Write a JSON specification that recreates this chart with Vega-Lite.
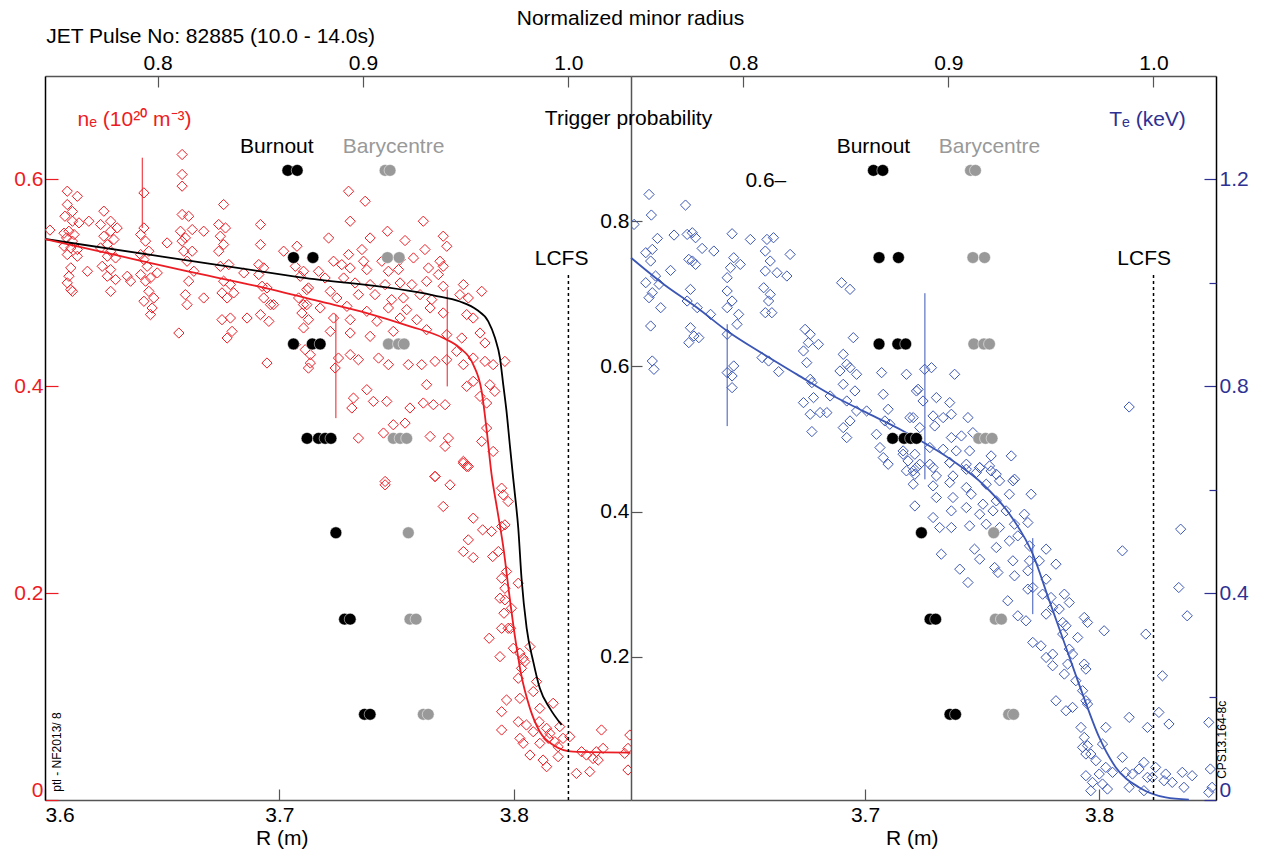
{
"$schema": "https://vega.github.io/schema/vega-lite/v6.json",
"padding": {"left": 13, "top": 7, "right": 5, "bottom": 5},
"config": {
  "view": {"stroke": null},
  "font": "Liberation Sans",
  "axis": {"grid": false, "labelFont": "Liberation Sans", "titleFont": "Liberation Sans", "labelFontSize": 21, "titleFontSize": 21, "titleFontWeight": "normal", "labelColor": "black", "titleColor": "black", "domainWidth": 1.5, "tickWidth": 1.2, "labelOverlap": false, "labelAngle": 0},
  "text": {"font": "Liberation Sans"}
},
"datasets": {
  "ne": [
    {"R":3.6021,"ne":0.551},
    {"R":3.6095,"ne":0.5886},{"R":3.6138,"ne":0.5837},{"R":3.6095,"ne":0.5757},{"R":3.6117,"ne":0.569},{"R":3.6085,"ne":0.5644},{"R":3.6117,"ne":0.5596},{"R":3.6145,"ne":0.558},{"R":3.6081,"ne":0.548},{"R":3.6102,"ne":0.5499},{"R":3.6124,"ne":0.5467},{"R":3.6092,"ne":0.5435},{"R":3.6117,"ne":0.5403},{"R":3.6081,"ne":0.5354},{"R":3.611,"ne":0.5338},{"R":3.6138,"ne":0.5322},{"R":3.6095,"ne":0.5273},{"R":3.6138,"ne":0.5257},{"R":3.611,"ne":0.5145},{"R":3.6102,"ne":0.5064},{"R":3.6095,"ne":0.5},{"R":3.611,"ne":0.4935},{"R":3.6117,"ne":0.4918},{"R":3.6181,"ne":0.5112},{"R":3.6187,"ne":0.5596},
    {"R":3.6251,"ne":0.5693},{"R":3.628,"ne":0.5596},{"R":3.6237,"ne":0.5564},{"R":3.6308,"ne":0.5531},{"R":3.628,"ne":0.5499},{"R":3.6251,"ne":0.5451},{"R":3.6294,"ne":0.5419},{"R":3.6266,"ne":0.537},{"R":3.6237,"ne":0.5338},{"R":3.628,"ne":0.5306},{"R":3.6266,"ne":0.5257},{"R":3.6301,"ne":0.5241},{"R":3.6244,"ne":0.516},{"R":3.628,"ne":0.5128},{"R":3.6266,"ne":0.5064},{"R":3.6301,"ne":0.5032},{"R":3.628,"ne":0.4918},{"R":3.6351,"ne":0.5064},{"R":3.6365,"ne":0.5016},
    {"R":3.6422,"ne":0.587},{"R":3.6422,"ne":0.5531},{"R":3.6408,"ne":0.5467},{"R":3.6429,"ne":0.5403},{"R":3.6443,"ne":0.5306},{"R":3.6408,"ne":0.5273},{"R":3.6422,"ne":0.5225},{"R":3.6436,"ne":0.516},{"R":3.6408,"ne":0.508},{"R":3.645,"ne":0.5048},{"R":3.6429,"ne":0.5016},{"R":3.6443,"ne":0.4918},{"R":3.6422,"ne":0.4822},{"R":3.6464,"ne":0.4854},{"R":3.6457,"ne":0.4757},{"R":3.645,"ne":0.4693},{"R":3.6479,"ne":0.5096},
    {"R":3.6585,"ne":0.6241},{"R":3.6585,"ne":0.6048},{"R":3.6585,"ne":0.5935},{"R":3.6585,"ne":0.5661},{"R":3.6613,"ne":0.5644},{"R":3.6578,"ne":0.5499},{"R":3.6599,"ne":0.5435},{"R":3.6628,"ne":0.5515},{"R":3.6585,"ne":0.5403},{"R":3.6592,"ne":0.5306},{"R":3.6628,"ne":0.5306},{"R":3.6606,"ne":0.5209},{"R":3.6635,"ne":0.5112},{"R":3.6613,"ne":0.5016},{"R":3.6599,"ne":0.4886},{"R":3.6606,"ne":0.4789},{"R":3.6571,"ne":0.4515},{"R":3.6521,"ne":0.5386},{"R":3.6677,"ne":0.5499},{"R":3.6677,"ne":0.4854},
    {"R":3.6762,"ne":0.5757},{"R":3.6741,"ne":0.5564},{"R":3.677,"ne":0.5531},{"R":3.6748,"ne":0.5451},{"R":3.6762,"ne":0.537},{"R":3.6741,"ne":0.5306},{"R":3.6784,"ne":0.5177},{"R":3.6748,"ne":0.516},{"R":3.6762,"ne":0.5016},{"R":3.6791,"ne":0.4983},{"R":3.6755,"ne":0.4903},{"R":3.6777,"ne":0.4854},{"R":3.6805,"ne":0.4903},{"R":3.6791,"ne":0.466},{"R":3.6755,"ne":0.4644},{"R":3.6798,"ne":0.4531},{"R":3.6777,"ne":0.4467},{"R":3.6862,"ne":0.466},{"R":3.6848,"ne":0.5096},
    {"R":3.6919,"ne":0.5564},{"R":3.6919,"ne":0.537},{"R":3.6912,"ne":0.5177},{"R":3.6933,"ne":0.5145},{"R":3.6912,"ne":0.508},{"R":3.6926,"ne":0.4967},{"R":3.6947,"ne":0.4951},{"R":3.6933,"ne":0.4854},{"R":3.6962,"ne":0.4789},{"R":3.6919,"ne":0.4693},{"R":3.6955,"ne":0.4628},{"R":3.6947,"ne":0.4225},{"R":3.6975,"ne":0.4789},
    {"R":3.7018,"ne":0.5306},{"R":3.7075,"ne":0.5354},{"R":3.7068,"ne":0.516},{"R":3.7089,"ne":0.5064},{"R":3.7117,"ne":0.4935},{"R":3.7082,"ne":0.4854},{"R":3.7103,"ne":0.4789},{"R":3.7096,"ne":0.4708},{"R":3.7124,"ne":0.4644},{"R":3.7103,"ne":0.4564},{"R":3.7068,"ne":0.4402},{"R":3.711,"ne":0.4354},{"R":3.7132,"ne":0.4305},{"R":3.7124,"ne":0.4176},
    {"R":3.7295,"ne":0.5886},{"R":3.7366,"ne":0.5789},{"R":3.7302,"ne":0.5596},{"R":3.7614,"ne":0.5596},{"R":3.7461,"ne":0.5499},{"R":3.7699,"ne":0.5451},{"R":3.7536,"ne":0.5409},{"R":3.721,"ne":0.5434},{"R":3.7387,"ne":0.5434},{"R":3.7352,"ne":0.5322},{"R":3.7621,"ne":0.5322},{"R":3.7714,"ne":0.5354},{"R":3.7139,"ne":0.5241},{"R":3.7231,"ne":0.5209},{"R":3.7295,"ne":0.5273},{"R":3.7266,"ne":0.5176},{"R":3.7359,"ne":0.5209},{"R":3.7437,"ne":0.5209},{"R":3.7515,"ne":0.5225},{"R":3.7572,"ne":0.5241},{"R":3.7685,"ne":0.5209},{"R":3.7699,"ne":0.516},{"R":3.7103,"ne":0.5112},{"R":3.7167,"ne":0.5112},{"R":3.7302,"ne":0.5144},{"R":3.7373,"ne":0.5128},{"R":3.7465,"ne":0.5112},{"R":3.7508,"ne":0.5128},{"R":3.7636,"ne":0.5144},{"R":3.7678,"ne":0.508},{"R":3.7195,"ne":0.5047},{"R":3.7274,"ne":0.5047},{"R":3.7323,"ne":0.4999},{"R":3.7387,"ne":0.4983},{"R":3.7451,"ne":0.4983},{"R":3.7515,"ne":0.4999},{"R":3.7565,"ne":0.4983},{"R":3.7628,"ne":0.5015},{"R":3.7699,"ne":0.4967},{"R":3.7785,"ne":0.4983},{"R":3.7863,"ne":0.4918},{"R":3.7124,"ne":0.4951},{"R":3.7217,"ne":0.4918},{"R":3.7245,"ne":0.4854},{"R":3.7337,"ne":0.4886},{"R":3.7408,"ne":0.4886},{"R":3.7479,"ne":0.4838},{"R":3.7529,"ne":0.4854},{"R":3.76,"ne":0.4886},{"R":3.765,"ne":0.4838},{"R":3.777,"ne":0.4886},{"R":3.7806,"ne":0.4854},{"R":3.7117,"ne":0.4789},{"R":3.7174,"ne":0.4757},{"R":3.7288,"ne":0.4773},{"R":3.7373,"ne":0.4725},{"R":3.7465,"ne":0.4757},{"R":3.7543,"ne":0.4741},{"R":3.7643,"ne":0.4757},{"R":3.7699,"ne":0.4709},{"R":3.7799,"ne":0.4693},{"R":3.7827,"ne":0.466},{"R":3.7231,"ne":0.466},{"R":3.7302,"ne":0.4644},{"R":3.7416,"ne":0.4628},{"R":3.7515,"ne":0.466},{"R":3.7586,"ne":0.4644},{"R":3.7217,"ne":0.4531},{"R":3.7302,"ne":0.4515},{"R":3.7387,"ne":0.4483},{"R":3.7486,"ne":0.4531},{"R":3.7628,"ne":0.4547},{"R":3.7714,"ne":0.4499},{"R":3.7778,"ne":0.4467},{"R":3.7856,"ne":0.4515},{"R":3.7877,"ne":0.4419},{"R":3.7252,"ne":0.4273},{"R":3.7337,"ne":0.4257},{"R":3.7423,"ne":0.4273},{"R":3.7465,"ne":0.4209},{"R":3.755,"ne":0.4209},{"R":3.7607,"ne":0.4209},{"R":3.7664,"ne":0.4241},{"R":3.7714,"ne":0.4257},{"R":3.7756,"ne":0.4338},{"R":3.7785,"ne":0.4209},{"R":3.7827,"ne":0.4273},{"R":3.7877,"ne":0.4241},{"R":3.7912,"ne":0.4209},{"R":3.7962,"ne":0.4241},{"R":3.7132,"ne":0.4225},{"R":3.7238,"ne":0.4177},{"R":3.7302,"ne":0.4306},{"R":3.7373,"ne":0.3967},{"R":3.7401,"ne":0.3854},{"R":3.7458,"ne":0.3854},{"R":3.7316,"ne":0.3886},{"R":3.7309,"ne":0.379},{"R":3.7557,"ne":0.379},{"R":3.7628,"ne":0.4015},{"R":3.7614,"ne":0.3838},{"R":3.7657,"ne":0.3822},{"R":3.7707,"ne":0.3822},{"R":3.7799,"ne":0.3999},{"R":3.7827,"ne":0.4048},{"R":3.7856,"ne":0.3902},{"R":3.7884,"ne":0.3838},{"R":3.7898,"ne":0.4015},{"R":3.7919,"ne":0.3951},{"R":3.7486,"ne":0.3628},{"R":3.7536,"ne":0.3644},{"R":3.7444,"ne":0.3548},{"R":3.7337,"ne":0.3499},{"R":3.7643,"ne":0.3515},{"R":3.7721,"ne":0.3499},{"R":3.7707,"ne":0.3419},{"R":3.7785,"ne":0.3274},{"R":3.7799,"ne":0.3225},{"R":3.7884,"ne":0.3596},{"R":3.7863,"ne":0.3467},{"R":3.7912,"ne":0.337},{"R":3.7664,"ne":0.3128},{"R":3.7451,"ne":0.308},
    {"R":3.7451,"ne":0.3047},{"R":3.7664,"ne":0.3128},{"R":3.7728,"ne":0.3047},{"R":3.7785,"ne":0.3257},{"R":3.7806,"ne":0.3225},{"R":3.7699,"ne":0.2838},{"R":3.7827,"ne":0.2725},{"R":3.7867,"ne":0.2612},{"R":3.7905,"ne":0.2596},{"R":3.7948,"ne":0.2644},{"R":3.7962,"ne":0.266},{"R":3.7948,"ne":0.3015},{"R":3.7955,"ne":0.295},{"R":3.7976,"ne":0.2886},{"R":3.7806,"ne":0.2515},{"R":3.7785,"ne":0.2402},{"R":3.7827,"ne":0.2344},{"R":3.791,"ne":0.2354},{"R":3.7934,"ne":0.2402},{"R":3.7969,"ne":0.2209},{"R":3.7948,"ne":0.2144},{"R":3.8019,"ne":0.2096},{"R":3.7962,"ne":0.2047},{"R":3.7941,"ne":0.1951},{"R":3.7962,"ne":0.1935},{"R":3.799,"ne":0.1854},{"R":3.7958,"ne":0.1806},{"R":3.7948,"ne":0.166},{"R":3.7976,"ne":0.166},{"R":3.7986,"ne":0.166},{"R":3.7895,"ne":0.1564},{"R":3.7941,"ne":0.1386},{"R":3.7998,"ne":0.1467},{"R":3.8026,"ne":0.1419},{"R":3.804,"ne":0.137},{"R":3.8047,"ne":0.1338},{"R":3.8069,"ne":0.1483},{"R":3.8019,"ne":0.1177},{"R":3.8033,"ne":0.1273},{"R":3.8097,"ne":0.1144},{"R":3.8083,"ne":0.1048},{"R":3.7969,"ne":0.0967},{"R":3.8026,"ne":0.0983},{"R":3.7948,"ne":0.0854},{"R":3.8111,"ne":0.0886},{"R":3.8168,"ne":0.0935},{"R":3.8019,"ne":0.0757},{"R":3.8054,"ne":0.0725},{"R":3.8108,"ne":0.0757},{"R":3.814,"ne":0.0693},{"R":3.7948,"ne":0.0677},{"R":3.8026,"ne":0.0596},{"R":3.804,"ne":0.0548},{"R":3.8083,"ne":0.066},{"R":3.8154,"ne":0.0644},{"R":3.8196,"ne":0.0709},{"R":3.8111,"ne":0.0548},{"R":3.8147,"ne":0.0596},{"R":3.8175,"ne":0.0564},{"R":3.8189,"ne":0.0515},{"R":3.821,"ne":0.0596},{"R":3.8239,"ne":0.0612},{"R":3.8069,"ne":0.0435},{"R":3.8125,"ne":0.0386},{"R":3.814,"ne":0.0322},{"R":3.8189,"ne":0.0419},{"R":3.8267,"ne":0.0257},{"R":3.8289,"ne":0.0467},{"R":3.831,"ne":0.0435},{"R":3.8324,"ne":0.0274},{"R":3.8352,"ne":0.0467},{"R":3.8374,"ne":0.0677},{"R":3.8381,"ne":0.0499},{"R":3.8338,"ne":0.0402},{"R":3.836,"ne":0.0386},{"R":3.8487,"ne":0.0499},{"R":3.8487,"ne":0.029},{"R":3.8495,"ne":0.0628},{"R":3.8473,"ne":0.0451}
  ],
  "te": [
    {"R":3.6013,"te":1.113},{"R":3.6077,"te":1.171},{"R":3.6087,"te":1.1311},{"R":3.6113,"te":1.086},{"R":3.6063,"te":1.0583},{"R":3.6091,"te":1.0647},{"R":3.6084,"te":1.0422},{"R":3.6169,"te":1.0241},{"R":3.6184,"te":1.0924},{"R":3.6063,"te":1.0003},{"R":3.6105,"te":1.0132},{"R":3.612,"te":0.9971},{"R":3.6091,"te":0.981},{"R":3.6077,"te":0.9713},{"R":3.6127,"te":0.952},{"R":3.6084,"te":0.9166},{"R":3.6091,"te":0.8489},{"R":3.6098,"te":0.8328},
    {"R":3.6233,"te":1.1504},{"R":3.624,"te":1.0937},{"R":3.6262,"te":1.0969},{"R":3.6276,"te":1.0873},{"R":3.6304,"te":1.0666},{"R":3.6354,"te":1.0615},{"R":3.6247,"te":1.0454},{"R":3.6262,"te":1.0422},{"R":3.6276,"te":1.0357},{"R":3.6254,"te":0.9874},{"R":3.624,"te":0.9649},{"R":3.6283,"te":0.952},{"R":3.634,"te":0.9391},{"R":3.6254,"te":0.9133},{"R":3.6269,"te":0.8972},{"R":3.6247,"te":0.8844},{"R":3.629,"te":0.894},
    {"R":3.6432,"te":1.095},{"R":3.651,"te":1.084},{"R":3.6439,"te":1.0486},{"R":3.6467,"te":1.0357},{"R":3.6425,"te":1.0293},{"R":3.6411,"te":1.01},{"R":3.6411,"te":0.9842},{"R":3.6432,"te":0.9649},{"R":3.6411,"te":0.952},{"R":3.646,"te":0.9391},{"R":3.6453,"te":0.9198},{"R":3.6411,"te":0.9005},{"R":3.6411,"te":0.8264},{"R":3.6439,"te":0.8393},{"R":3.6432,"te":0.8199},{"R":3.6432,"te":0.7974},
    {"R":3.6581,"te":1.084},{"R":3.6609,"te":1.0873},{"R":3.6574,"te":1.0615},{"R":3.6595,"te":1.0422},{"R":3.6574,"te":1.0228},{"R":3.6624,"te":1.0196},{"R":3.6666,"te":1.0132},{"R":3.6567,"te":0.9906},{"R":3.6595,"te":0.9777},{"R":3.6588,"te":0.9649},{"R":3.6602,"te":0.9423},{"R":3.668,"te":1.055},{"R":3.6574,"te":0.9423},{"R":3.656,"te":0.8554},{"R":3.6588,"te":0.8489},{"R":3.6631,"te":0.8283},
    {"R":3.6744,"te":0.9101},{"R":3.6766,"te":0.9005},{"R":3.6758,"te":0.8844},{"R":3.6737,"te":0.8683},{"R":3.6801,"te":0.8811},{"R":3.6751,"te":0.8457},{"R":3.6766,"te":0.8135},{"R":3.6773,"te":0.8071},{"R":3.6737,"te":0.7684},{"R":3.678,"te":0.7781},{"R":3.6766,"te":0.7459},{"R":3.6808,"te":0.7491},{"R":3.6837,"te":0.7491},{"R":3.6773,"te":0.7124},{"R":3.6851,"te":0.7813},
    {"R":3.69,"te":1.0003},{"R":3.6936,"te":0.9874},{"R":3.695,"te":0.894},{"R":3.6907,"te":0.8618},{"R":3.6922,"te":0.8425},{"R":3.6893,"te":0.8296},{"R":3.6936,"te":0.836},{"R":3.6964,"te":0.8232},{"R":3.6907,"te":0.8038},{"R":3.6957,"te":0.791},{"R":3.6922,"te":0.7716},{"R":3.6964,"te":0.7523},{"R":3.6936,"te":0.733},{"R":3.6907,"te":0.7201},{"R":3.6922,"te":0.7008},
    {"R":3.7007,"te":0.7523},{"R":3.7071,"te":0.8264},{"R":3.7078,"te":0.7845},{"R":3.7099,"te":0.7555},{"R":3.7085,"te":0.733},{"R":3.7106,"te":0.7266},{"R":3.7049,"te":0.7072},{"R":3.7064,"te":0.6815},{"R":3.7078,"te":0.6621},{"R":3.7099,"te":0.6493},{"R":3.7163,"te":0.6686},{"R":3.7177,"te":0.8232},{"R":3.722,"te":0.791},{"R":3.7206,"te":0.7394},{"R":3.7213,"te":0.6686},{"R":3.7206,"te":0.6364},
    {"R":3.7255,"te":0.8328},{"R":3.7284,"te":0.836},{"R":3.7383,"te":0.8232},{"R":3.7227,"te":0.7942},{"R":3.7248,"te":0.7716},{"R":3.7305,"te":0.7781},{"R":3.7362,"te":0.7684},{"R":3.7192,"te":0.7394},{"R":3.7291,"te":0.7427},{"R":3.7334,"te":0.7394},{"R":3.7369,"te":0.7459},{"R":3.744,"te":0.7394},{"R":3.7234,"te":0.7201},{"R":3.7298,"te":0.7233},{"R":3.7461,"te":0.7104},{"R":3.7369,"te":0.7008},{"R":3.7412,"te":0.704},{"R":3.7163,"te":0.675},{"R":3.7277,"te":0.6815},{"R":3.7334,"te":0.6782},{"R":3.739,"te":0.675},{"R":3.7447,"te":0.675},{"R":3.7539,"te":0.6654},{"R":3.7625,"te":0.6654},{"R":3.7184,"te":0.6557},{"R":3.7234,"te":0.6493},{"R":3.7291,"te":0.6428},{"R":3.7362,"te":0.6525},{"R":3.7433,"te":0.6493},{"R":3.749,"te":0.6428},{"R":3.7532,"te":0.646},{"R":3.7213,"te":0.6299},{"R":3.7305,"te":0.6267},{"R":3.7376,"te":0.6267},{"R":3.7476,"te":0.6332},{"R":3.7561,"te":0.6299},{"R":3.7639,"te":0.6203},{"R":3.8129,"te":0.76},
    {"R":3.7177,"te":0.6364},{"R":3.722,"te":0.6428},{"R":3.7277,"te":0.6493},{"R":3.7362,"te":0.6525},{"R":3.7433,"te":0.6396},{"R":3.749,"te":0.6428},{"R":3.7539,"te":0.6364},{"R":3.7206,"te":0.6106},{"R":3.7291,"te":0.6074},{"R":3.7362,"te":0.6138},{"R":3.7433,"te":0.6042},{"R":3.7518,"te":0.6106},{"R":3.7575,"te":0.6171},{"R":3.7632,"te":0.6171},{"R":3.7305,"te":0.5849},{"R":3.7376,"te":0.5849},{"R":3.7454,"te":0.5913},{"R":3.7504,"te":0.572},{"R":3.7561,"te":0.5784},{"R":3.7617,"te":0.5913},{"R":3.771,"te":0.5913},{"R":3.7213,"te":0.5687},{"R":3.7291,"te":0.5462},{"R":3.7369,"te":0.5591},{"R":3.7433,"te":0.5655},{"R":3.749,"te":0.5526},{"R":3.7547,"te":0.5591},{"R":3.7603,"te":0.5591},{"R":3.7681,"te":0.5526},{"R":3.7319,"te":0.5269},{"R":3.7369,"te":0.5269},{"R":3.7447,"te":0.5301},{"R":3.7518,"te":0.5333},{"R":3.7575,"te":0.5269},{"R":3.7639,"te":0.5333},{"R":3.7696,"te":0.5365},{"R":3.7468,"te":0.485},{"R":3.7561,"te":0.4882},{"R":3.7617,"te":0.5011},{"R":3.749,"te":0.4657},{"R":3.7554,"te":0.4496},{"R":3.7632,"te":0.4625},{"R":3.7653,"te":0.5108},{"R":3.7703,"te":0.4914},{"R":3.7774,"te":0.485},{"R":3.7816,"te":0.456},{"R":3.7326,"te":0.4753},{"R":3.7405,"te":0.4464},{"R":3.744,"te":0.4206},{"R":3.7568,"te":0.4399},{"R":3.7639,"te":0.4335},{"R":3.7703,"te":0.4625},{"R":3.7745,"te":0.4625},{"R":3.7696,"te":0.4432},{"R":3.7774,"te":0.427},{"R":3.7717,"te":0.4109},{"R":3.761,"te":0.3852},{"R":3.7696,"te":0.4077},{"R":3.7759,"te":0.398},{"R":3.7795,"te":0.3916},{"R":3.7852,"te":0.398},{"R":3.7873,"te":0.3819},{"R":3.7802,"te":0.3723},{"R":3.7774,"te":0.3594},{"R":3.783,"te":0.3691},{"R":3.7653,"te":0.3562},{"R":3.7688,"te":0.3465},{"R":3.7845,"te":0.3433},{"R":3.7859,"te":0.3369},{"R":3.7937,"te":0.353},{"R":3.7951,"te":0.3433},{"R":3.8022,"te":0.3272},{"R":3.7845,"te":0.3208},{"R":3.7909,"te":0.3143},{"R":3.7717,"te":0.3047},{"R":3.7752,"te":0.2982},{"R":3.7802,"te":0.2821},{"R":3.7774,"te":0.2757},{"R":3.7873,"te":0.2918},{"R":3.7887,"te":0.2821},{"R":3.7866,"te":0.2628},{"R":3.7937,"te":0.2628},{"R":3.7944,"te":0.2531},{"R":3.7802,"te":0.2596},{"R":3.7852,"te":0.2435},{"R":3.7901,"te":0.2306},{"R":3.793,"te":0.2113},{"R":3.7816,"te":0.1919},{"R":3.7859,"te":0.1726},{"R":3.7944,"te":0.1919},{"R":3.7951,"te":0.1855},{"R":3.7887,"te":0.1791},{"R":3.7923,"te":0.1404},{"R":3.7937,"te":0.1211},{"R":3.7951,"te":0.105},{"R":3.7965,"te":0.0889},{"R":3.8015,"te":0.1082},{"R":3.8029,"te":0.1404},{"R":3.793,"te":0.1018},{"R":3.7944,"te":0.0889},{"R":3.7987,"te":0.076},{"R":3.8029,"te":0.0631},{"R":3.8001,"te":0.0502},{"R":3.8058,"te":0.0535},{"R":3.7944,"te":0.047},{"R":3.7972,"te":0.0341},{"R":3.8015,"te":0.0309},{"R":3.7965,"te":0.018},{"R":3.8036,"te":0.0212},{"R":3.81,"te":0.0825},{"R":3.8114,"te":0.0535},{"R":3.8129,"te":0.0245},{"R":3.8143,"te":0.0502},{"R":3.8171,"te":0.0599},{"R":3.8192,"te":0.0728},{"R":3.8207,"te":0.0438},{"R":3.8192,"te":0.018},{"R":3.8242,"te":0.0631},{"R":3.8228,"te":0.0438},{"R":3.8285,"te":0.0502},{"R":3.8278,"te":0.0373},{"R":3.8313,"te":0.0341},{"R":3.8356,"te":0.0535},{"R":3.8363,"te":0.0245},{"R":3.8398,"te":0.047},{"R":3.8129,"te":0.1598},{"R":3.8207,"te":0.1404},{"R":3.82,"te":0.3208},{"R":3.8256,"te":0.1694},{"R":3.8299,"te":0.1469},{"R":3.8271,"te":0.2402},{"R":3.8349,"te":0.5237},{"R":3.8341,"te":0.4109},{"R":3.8377,"te":0.3562},{"R":3.81,"te":0.4818},{"R":3.8469,"te":0.1501},{"R":3.8476,"te":0.0599},{"R":3.8469,"te":0.0148},{"R":3.8483,"te":0.0245}
  ],
  "fitRed": [
    {"R":3.6,"ne":0.5424},{"R":3.63,"ne":0.527},{"R":3.66,"ne":0.5115},{"R":3.69,"ne":0.497},{"R":3.7174,"ne":0.482},{"R":3.7373,"ne":0.4708},{"R":3.7557,"ne":0.458},{"R":3.7699,"ne":0.4467},{"R":3.777,"ne":0.437},{"R":3.7827,"ne":0.421},{"R":3.7863,"ne":0.395},{"R":3.7884,"ne":0.358},{"R":3.7905,"ne":0.315},{"R":3.793,"ne":0.28},{"R":3.7955,"ne":0.245},{"R":3.798,"ne":0.2},{"R":3.8005,"ne":0.158},{"R":3.803,"ne":0.123},{"R":3.8069,"ne":0.0886},{"R":3.8111,"ne":0.066},{"R":3.8168,"ne":0.0532},{"R":3.8253,"ne":0.0467},{"R":3.8497,"ne":0.0458}
  ],
  "fitBlack": [
    {"R":3.6,"ne":0.5424},{"R":3.65,"ne":0.5254},{"R":3.7089,"ne":0.5054},{"R":3.7657,"ne":0.488},{"R":3.777,"ne":0.482},{"R":3.7842,"ne":0.474},{"R":3.7891,"ne":0.4628},{"R":3.792,"ne":0.4466},{"R":3.7941,"ne":0.4273},{"R":3.7955,"ne":0.4015},{"R":3.7969,"ne":0.3757},{"R":3.7983,"ne":0.3435},{"R":3.7997,"ne":0.312},{"R":3.8005,"ne":0.295},{"R":3.8019,"ne":0.263},{"R":3.8033,"ne":0.2144},{"R":3.8055,"ne":0.166},{"R":3.8083,"ne":0.1338},{"R":3.8111,"ne":0.108},{"R":3.8154,"ne":0.0886},{"R":3.8204,"ne":0.0726}
  ],
  "fitBlue": [
    {"R":3.6,"te":1.0486},{"R":3.6141,"te":0.997},{"R":3.6283,"te":0.952},{"R":3.6411,"te":0.907},{"R":3.6567,"te":0.862},{"R":3.6709,"te":0.823},{"R":3.6851,"te":0.7845},{"R":3.6993,"te":0.752},{"R":3.7163,"te":0.7136},{"R":3.7376,"te":0.6556},{"R":3.7504,"te":0.6106},{"R":3.7618,"te":0.5527},{"R":3.7717,"te":0.4754},{"R":3.7788,"te":0.385},{"R":3.7859,"te":0.2949},{"R":3.793,"te":0.2048},{"R":3.8001,"te":0.121},{"R":3.8072,"te":0.063},{"R":3.8172,"te":0.0243},{"R":3.8285,"te":0.005},{"R":3.8384,"te":0.0006}
  ],
  "errRed": [
    {"R":3.6415,"ne":0.553,"ne2":0.621},{"R":3.7241,"ne":0.3692,"ne2":0.4695},{"R":3.7716,"ne":0.3999,"ne2":0.4937}
  ],
  "errBlue": [
    {"R":3.6411,"te":0.723,"te2":0.92},{"R":3.7256,"te":0.62,"te2":0.98},{"R":3.7717,"te":0.3594,"te2":0.5064}
  ],
  "burnout": [
    {"R":3.7036,"p":0.87},{"R":3.7076,"p":0.87},
    {"R":3.706,"p":0.75},{"R":3.7143,"p":0.75},
    {"R":3.706,"p":0.631},{"R":3.714,"p":0.631},{"R":3.7174,"p":0.631},
    {"R":3.7118,"p":0.501},{"R":3.7167,"p":0.501},{"R":3.7195,"p":0.501},{"R":3.722,"p":0.501},
    {"R":3.7241,"p":0.371},
    {"R":3.7278,"p":0.252},{"R":3.7302,"p":0.252},
    {"R":3.7363,"p":0.121},{"R":3.7387,"p":0.121}
  ],
  "bary": [
    {"R":3.7451,"p":0.87},{"R":3.7472,"p":0.87},
    {"R":3.7461,"p":0.75},{"R":3.7511,"p":0.75},
    {"R":3.7465,"p":0.631},{"R":3.7508,"p":0.631},{"R":3.7532,"p":0.631},
    {"R":3.7486,"p":0.501},{"R":3.7515,"p":0.501},{"R":3.7543,"p":0.501},
    {"R":3.755,"p":0.371},
    {"R":3.7557,"p":0.252},{"R":3.7583,"p":0.252},
    {"R":3.7614,"p":0.121},{"R":3.7635,"p":0.121}
  ]
},
"hconcat": [
  {
    "width": 586,
    "height": 724,
    "layer": [
      {
        "encoding": {
          "x": {"field": "R", "type": "quantitative", "scale": {"domain": [3.6, 3.85], "nice": false, "zero": false},
                "axis": {"orient": "bottom", "values": [3.6, 3.7, 3.8], "format": ".1f", "title": "R (m)", "titleX": 236.7, "titleY": 38, "titleAlign": "center", "titleBaseline": "middle", "tickSize": -11, "labelPadding": 15, "domainColor": "#555555", "tickColor": "#555555"}},
          "y": {"field": "ne", "type": "quantitative", "scale": {"domain": [0, 0.7], "nice": false, "zero": false},
                "axis": {"orient": "left", "values": [0, 0.2, 0.4, 0.6], "format": ".1~f", "title": "nₑ (10²⁰ m⁻³)", "titleAngle": 0, "titleX": 89, "titleY": 43, "titleAlign": "center", "titleBaseline": "middle", "titleColor": "#ec1c24", "labelColor": "#ec1c24", "tickColor": "#ec1c24", "domainColor": "black", "tickSize": -13, "labelPadding": 15, "labelFlush": true}}
        },
        "layer": [
          {"data": {"name": "ne"}, "mark": {"type": "point", "shape": "diamond", "filled": false, "size": 105, "strokeWidth": 1, "color": "#ec1c24", "opacity": 1, "clip": true}},
          {"data": {"name": "errRed"}, "mark": {"type": "rule", "color": "#ec1c24", "strokeWidth": 1}, "encoding": {"y2": {"field": "ne2"}}},
          {"data": {"name": "fitBlack"}, "mark": {"type": "line", "color": "black", "strokeWidth": 1.8, "interpolate": "monotone"}},
          {"data": {"name": "fitRed"}, "mark": {"type": "line", "color": "#ec1c24", "strokeWidth": 1.8, "interpolate": "monotone"}},
          {"data": {"values": [{"R": 3.605, "ne": 0.008, "label": "ptl - NF2013/ 8"}]}, "mark": {"type": "text", "angle": 270, "align": "left", "baseline": "middle", "fontSize": 12, "color": "black"}, "encoding": {"text": {"field": "label"}}}
        ]
      },
      {
        "encoding": {
          "x": {"field": "R", "type": "quantitative", "scale": {"domain": [3.6, 3.85], "nice": false, "zero": false}, "axis": null},
          "y": {"field": "p", "type": "quantitative", "scale": {"domain": [0.003, 1.0], "nice": false, "zero": false}, "axis": null}
        },
        "layer": [
          {"data": {"values": [{"R": 3.8233, "p": 0.003, "p2": 0.726}]}, "mark": {"type": "rule", "color": "black", "strokeWidth": 1.5, "strokeDash": [3, 3]}, "encoding": {"y2": {"field": "p2"}}},
          {"data": {"values": [{"R": 3.8204, "p": 0.748, "label": "LCFS"}]}, "mark": {"type": "text", "fontSize": 21, "color": "black"}, "encoding": {"text": {"field": "label"}}},
          {"data": {"name": "burnout"}, "mark": {"type": "circle", "size": 140, "color": "black", "opacity": 1, "stroke": "white", "strokeWidth": 0.5}},
          {"data": {"name": "bary"}, "mark": {"type": "circle", "size": 140, "color": "#999999", "opacity": 1, "stroke": "white", "strokeWidth": 0.5}},
          {"data": {"values": [{"R": 3.6989, "p": 0.902, "label": "Burnout"}]}, "mark": {"type": "text", "fontSize": 21, "color": "black"}, "encoding": {"text": {"field": "label"}}},
          {"data": {"values": [{"R": 3.7487, "p": 0.902, "label": "Barycentre"}]}, "mark": {"type": "text", "fontSize": 21, "color": "#999999"}, "encoding": {"text": {"field": "label"}}}
        ]
      },
      {
        "data": {"values": [{"rho": 0.8}, {"rho": 0.9}, {"rho": 1.0}]},
        "mark": {"type": "point", "opacity": 0},
        "encoding": {
          "x": {"field": "rho", "type": "quantitative", "scale": {"domain": [0.7452, 1.0305], "nice": false, "zero": false},
                "axis": {"orient": "top", "values": [0.8, 0.9, 1.0], "format": ".1f", "title": "JET Pulse No: 82885 (10.0 - 14.0s)", "titleX": 0.7, "titleY": -40, "titleAlign": "left", "titleBaseline": "middle", "tickSize": -11, "labelPadding": 14, "domainColor": "#555555", "tickColor": "#555555"}}
        }
      }
    ],
    "resolve": {"scale": {"x": "independent", "y": "independent"}}
  },
  {
    "width": 585,
    "height": 724,
    "layer": [
      {
        "encoding": {
          "x": {"field": "R", "type": "quantitative", "scale": {"domain": [3.6, 3.85], "nice": false, "zero": false},
                "axis": {"orient": "bottom", "values": [3.7, 3.8], "format": ".1f", "title": "R (m)", "titleX": 280.7, "titleY": 38, "titleAlign": "center", "titleBaseline": "middle", "tickSize": -11, "labelPadding": 15, "domainColor": "#555555", "tickColor": "#555555"}},
          "y": {"field": "te", "type": "quantitative", "scale": {"domain": [0, 1.4], "nice": false, "zero": false},
                "axis": {"orient": "right", "values": [0, 0.4, 0.8, 1.2], "format": ".1~f", "title": "Tₑ (keV)", "titleAngle": 0, "titleX": -69, "titleY": 43, "titleAlign": "center", "titleBaseline": "middle", "titleColor": "#2e3192", "labelColor": "#2e3192", "tickColor": "#2e3192", "domainColor": "black", "tickSize": -12, "labelPadding": 15, "labelFlush": true}}
        },
        "layer": [
          {"data": {"name": "te"}, "mark": {"type": "point", "shape": "diamond", "filled": false, "size": 105, "strokeWidth": 1, "color": "#3b56b5", "opacity": 1, "clip": true}},
          {"data": {"name": "errBlue"}, "mark": {"type": "rule", "color": "#3b56b5", "strokeWidth": 1}, "encoding": {"y2": {"field": "te2"}}},
          {"data": {"name": "fitBlue"}, "mark": {"type": "line", "color": "#3b56b5", "strokeWidth": 1.8, "interpolate": "monotone"}},
          {"data": {"values": [{"R": 3.8525, "te": 0.041, "label": "CPS13.164-8c"}]}, "mark": {"type": "text", "angle": 270, "align": "left", "baseline": "middle", "fontSize": 12, "color": "black"}, "encoding": {"text": {"field": "label"}}}
        ]
      },
      {
        "encoding": {
          "x": {"field": "R", "type": "quantitative", "scale": {"domain": [3.6, 3.85], "nice": false, "zero": false}, "axis": null},
          "y": {"field": "p", "type": "quantitative", "scale": {"domain": [0.003, 1.0], "nice": false, "zero": false},
                "axis": {"orient": "left", "values": [0.2, 0.4, 0.6, 0.8], "format": ".1f", "title": "Trigger probability", "titleAngle": 0, "titleX": -3, "titleY": 42.3, "titleAlign": "center", "titleBaseline": "middle", "tickSize": -11, "labelPadding": 13, "domainColor": "#555555", "tickColor": "#555555"}}
        },
        "layer": [
          {"data": {"values": [{"R": 3.8233, "p": 0.003, "p2": 0.726}]}, "mark": {"type": "rule", "color": "black", "strokeWidth": 1.5, "strokeDash": [3, 3]}, "encoding": {"y2": {"field": "p2"}}},
          {"data": {"values": [{"R": 3.8193, "p": 0.748, "label": "LCFS"}]}, "mark": {"type": "text", "fontSize": 21, "color": "black"}, "encoding": {"text": {"field": "label"}}},
          {"data": {"name": "burnout"}, "mark": {"type": "circle", "size": 140, "color": "black", "opacity": 1, "stroke": "white", "strokeWidth": 0.5}},
          {"data": {"name": "bary"}, "mark": {"type": "circle", "size": 140, "color": "#999999", "opacity": 1, "stroke": "white", "strokeWidth": 0.5}},
          {"data": {"values": [{"R": 3.7036, "p": 0.902, "label": "Burnout"}]}, "mark": {"type": "text", "fontSize": 21, "color": "black"}, "encoding": {"text": {"field": "label"}}},
          {"data": {"values": [{"R": 3.7532, "p": 0.902, "label": "Barycentre"}]}, "mark": {"type": "text", "fontSize": 21, "color": "#999999"}, "encoding": {"text": {"field": "label"}}},
          {"data": {"values": [{"R": 3.6489, "p": 0.856, "label": "0.6–"}]}, "mark": {"type": "text", "fontSize": 21, "color": "black", "align": "left"}, "encoding": {"text": {"field": "label"}}}
        ]
      },
      {
        "data": {"values": [{"te": 0.2}, {"te": 0.6}, {"te": 1.0}]},
        "mark": {"type": "point", "opacity": 0},
        "encoding": {
          "y": {"field": "te", "type": "quantitative", "scale": {"domain": [0, 1.4], "nice": false, "zero": false},
                "axis": {"orient": "right", "values": [0.2, 0.6, 1.0], "labels": false, "domain": false, "tickSize": -7, "tickColor": "#2e3192", "title": null}}
        }
      },
      {
        "data": {"values": [{"rho": 0.8}, {"rho": 0.9}, {"rho": 1.0}]},
        "mark": {"type": "point", "opacity": 0},
        "encoding": {
          "x": {"field": "rho", "type": "quantitative", "scale": {"domain": [0.7452, 1.0305], "nice": false, "zero": false},
                "axis": {"orient": "top", "values": [0.8, 0.9, 1.0], "format": ".1f", "title": "Normalized minor radius", "titleX": -1, "titleY": -58, "titleAlign": "center", "titleBaseline": "middle", "tickSize": -11, "labelPadding": 14, "domainColor": "#555555", "tickColor": "#555555"}}
        }
      }
    ],
    "resolve": {"scale": {"x": "independent", "y": "independent"}}
  }
],
"spacing": 0,
"bounds": "flush"
}
